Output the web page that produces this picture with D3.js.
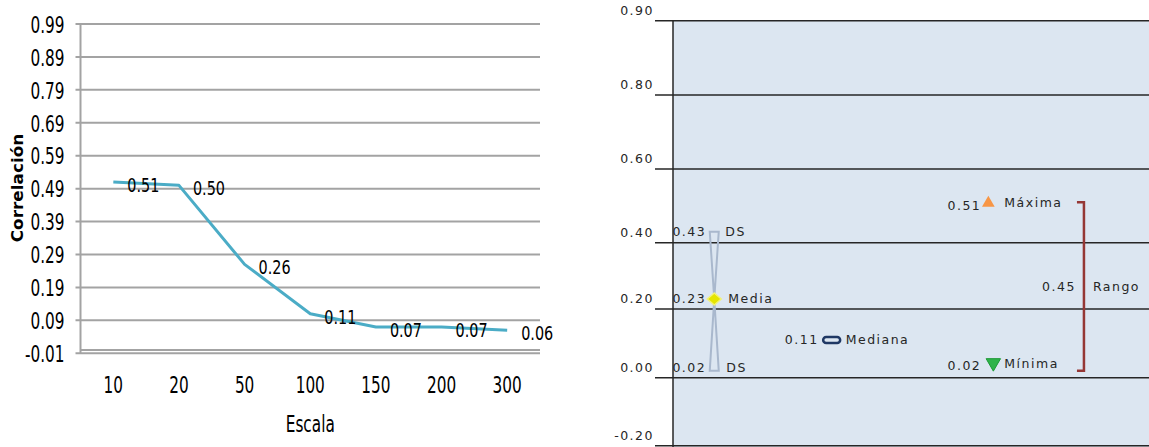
<!DOCTYPE html>
<html>
<head>
<meta charset="utf-8">
<script src="https://cdnjs.cloudflare.com/ajax/libs/d3/7.8.5/d3.min.js"></script>
<style>
  html, body { margin: 0; padding: 0; background: #fff; }
  svg { display: block; }
  .narrow { font-family: 'Liberation Sans Narrow', 'Arial Narrow', 'DejaVu Sans Condensed', sans-serif; fill: #000; }
  .wide { font-family: 'DejaVu Sans', Verdana, sans-serif; fill: #262626; letter-spacing: 1.5px; }
</style>
</head>
<body>
<svg id="chart" width="1149" height="447"></svg>
<script>
// ---------- DATA ----------
// Left chart: correlation by scale
const escala = ["10", "20", "50", "100", "150", "200", "300"];
const correlacion = [0.51, 0.50, 0.26, 0.11, 0.07, 0.07, 0.06];
const yTicksIzq = [0.99, 0.89, 0.79, 0.69, 0.59, 0.49, 0.39, 0.29, 0.19, 0.09, -0.01];

// Right chart: summary statistics
const yTicksDer = [0.90, 0.80, 0.60, 0.40, 0.20, 0.00, -0.20];
const dsSuperior = 0.43;
const media = 0.23;
const dsInferior = 0.02;
const mediana = 0.11;
const maxima = 0.51;
const minima = 0.02;
const rango = 0.45;
// x value (column) of each group in the original scatter layout
const grupos = ["Media", "Mediana", "Extremos", "Rango"];
const grupoX = [0.26, 1, 2, 2.59];

// ---------- SETUP ----------
const svg = d3.select("#chart");
const f2 = d3.format(".2f");
const fmt = v => f2(v).replace("\u2212", "-");

// ================= LEFT CHART =================
const L = { left: 80.5, right: 540, top: 24, bottom: 353.3 };
const xL = d3.scaleBand().domain(escala).range([L.left, L.right]);
const yL = d3.scaleLinear().domain([-0.01, 0.99]).range([L.bottom, L.top]);
const gL = svg.append("g");
const gridCol = "#a3a3a3";

// gridlines + tick marks
gL.selectAll("line.grid").data(yTicksIzq).join("line")
  .attr("x1", L.left - 5).attr("x2", L.right)
  .attr("y1", d => yL(d)).attr("y2", d => yL(d))
  .attr("stroke", gridCol).attr("stroke-width", 2);
// x axis line at 0
gL.append("line").attr("x1", L.left).attr("x2", L.right)
  .attr("y1", yL(0)).attr("y2", yL(0))
  .attr("stroke", gridCol).attr("stroke-width", 2);
// y axis line
gL.append("line").attr("x1", L.left).attr("x2", L.left)
  .attr("y1", yL(0.99)).attr("y2", yL(-0.01))
  .attr("stroke", gridCol).attr("stroke-width", 2);

function stretched(g, x, y, txt, anchor, size, sy, extra) {
  return g.append("text").attr("class", "narrow")
    .attr("transform", `translate(${x},${y}) scale(1,${sy})` + (extra || ""))
    .attr("text-anchor", anchor).attr("dy", "0.35em")
    .attr("font-size", size).text(txt);
}

// y tick labels
yTicksIzq.forEach(t => stretched(gL, L.left - 16, yL(t) + 1, fmt(t), "end", 17, 1.3));
// x tick labels
escala.forEach(c => stretched(gL, xL(c) + xL.bandwidth() / 2, 384.5, c, "middle", 17, 1.35));
// axis titles
stretched(gL, (L.left + L.right) / 2, 424, "Escala", "middle", 17, 1.35);
gL.append("text").attr("class", "narrow")
  .attr("transform", `translate(18,188) scale(1,1.25) rotate(-90)`)
  .attr("text-anchor", "middle").attr("dy", "0.35em")
  .attr("font-size", 15).attr("font-weight", "bold").text("Correlación");

// line
const ptsL = escala.map((c, i) => [xL(c) + xL.bandwidth() / 2, yL(correlacion[i])]);
gL.append("path").attr("d", d3.line()(ptsL))
  .attr("fill", "none").attr("stroke", "#4bacc6").attr("stroke-width", 3)
  .attr("stroke-linejoin", "round");
// data labels
ptsL.forEach((p, i) => stretched(gL, p[0] + 14, p[1] + 3, fmt(correlacion[i]), "start", 16, 1.25));

// ================= RIGHT CHART =================
const R = { left: 673, right: 1149, top: 20.7, bottom: 447 };
const yR = d3.scaleLinear()
  .domain([-0.2, 0, 0.2, 0.4, 0.6, 0.8, 0.9])
  .range([445.7, 377.7, 309, 242.7, 169, 95, 20.7]);
const xR = d3.scaleLinear().domain([0, 3]).range([R.left, R.right]);
const gR = svg.append("g");

gR.append("rect").attr("x", R.left).attr("y", R.top)
  .attr("width", R.right - R.left).attr("height", R.bottom - R.top)
  .attr("fill", "#dce6f1");
gR.selectAll("line.grid").data(yTicksDer).join("line")
  .attr("x1", R.left - 18).attr("x2", R.right)
  .attr("y1", d => yR(d)).attr("y2", d => yR(d))
  .attr("stroke", "#262626").attr("stroke-width", 1.5);
gR.append("line").attr("x1", R.left).attr("x2", R.left)
  .attr("y1", R.top).attr("y2", R.bottom)
  .attr("stroke", "#262626").attr("stroke-width", 1.5);
gR.selectAll("text.tick").data(yTicksDer).join("text")
  .attr("class", "wide").attr("font-size", 12.5)
  .attr("x", R.left - 19).attr("y", d => yR(d) - 6)
  .attr("text-anchor", "end").text(d => fmt(d));

function wtext(x, y, txt, anchor) {
  return gR.append("text").attr("class", "wide").attr("font-size", 12.5)
    .attr("x", x).attr("y", y).attr("dy", "0.35em")
    .attr("text-anchor", anchor).text(txt);
}

// Media ± DS hourglass
const cx = xR(grupoX[0]);
const hw = 4.5;
const hg = [[cx - hw, yR(dsSuperior)], [cx + hw, yR(dsSuperior)], [cx, yR(media)],
            [cx + hw, yR(dsInferior)], [cx - hw, yR(dsInferior)], [cx, yR(media)]];
gR.append("path").attr("d", d3.line()(hg) + "Z")
  .attr("fill", "none").attr("stroke", "#a9b8cd").attr("stroke-width", 2);
const dy0 = yR(media);
gR.append("path")
  .attr("d", `M${cx - 7},${dy0} L${cx},${dy0 - 6} L${cx + 7},${dy0} L${cx},${dy0 + 6} Z`)
  .attr("fill", "#e5e500").attr("stroke", "#f2f27a").attr("stroke-width", 1.5);
wtext(cx - 8, yR(dsSuperior), fmt(dsSuperior), "end");
wtext(cx + 11, yR(dsSuperior), "DS", "start");
wtext(cx - 8, yR(media), fmt(media), "end");
wtext(cx + 14, yR(media), "Media", "start");
wtext(cx - 8, yR(dsInferior) - 3, fmt(dsInferior), "end");
wtext(cx + 12, yR(dsInferior) - 3, "DS", "start");

// Mediana
const mx = xR(grupoX[1]);
gR.append("rect").attr("x", mx - 8.5).attr("y", yR(mediana) - 3)
  .attr("width", 17).attr("height", 6).attr("rx", 3)
  .attr("fill", "none").attr("stroke", "#1f3864").attr("stroke-width", 2.5);
wtext(mx - 13, yR(mediana), fmt(mediana), "end");
wtext(mx + 14, yR(mediana), "Mediana", "start");

// Máxima / Mínima
const ex = xR(grupoX[2]);
gR.append("path").attr("d", d3.symbol(d3.symbolTriangle, 70)())
  .attr("transform", `translate(${ex - 2},${yR(maxima) + 1})`)
  .attr("fill", "#f79646");
gR.append("path").attr("d", d3.symbol(d3.symbolTriangle, 90)())
  .attr("transform", `translate(${ex + 3},${yR(minima) - 8}) rotate(180)`)
  .attr("fill", "#2fb34a").attr("stroke", "#1d9a36").attr("stroke-width", 1);
wtext(ex - 9, yR(maxima) + 3, fmt(maxima), "end");
wtext(ex + 14, yR(maxima), "Máxima", "start");
wtext(ex - 9, yR(minima) - 5, fmt(minima), "end");
wtext(ex + 14, yR(minima) - 7, "Mínima", "start");

// Rango bracket
const rx = xR(grupoX[3]);
const yTop = yR(maxima), yBot = yR(minima);
gR.append("path")
  .attr("d", `M${rx - 7},${yTop} L${rx},${yTop} L${rx},${yBot} L${rx - 7},${yBot}`)
  .attr("fill", "none").attr("stroke", "#953735").attr("stroke-width", 2.5);
wtext(rx - 8, (yTop + yBot) / 2, fmt(rango), "end");
wtext(rx + 9, (yTop + yBot) / 2, "Rango", "start");
</script>
</body>
</html>
